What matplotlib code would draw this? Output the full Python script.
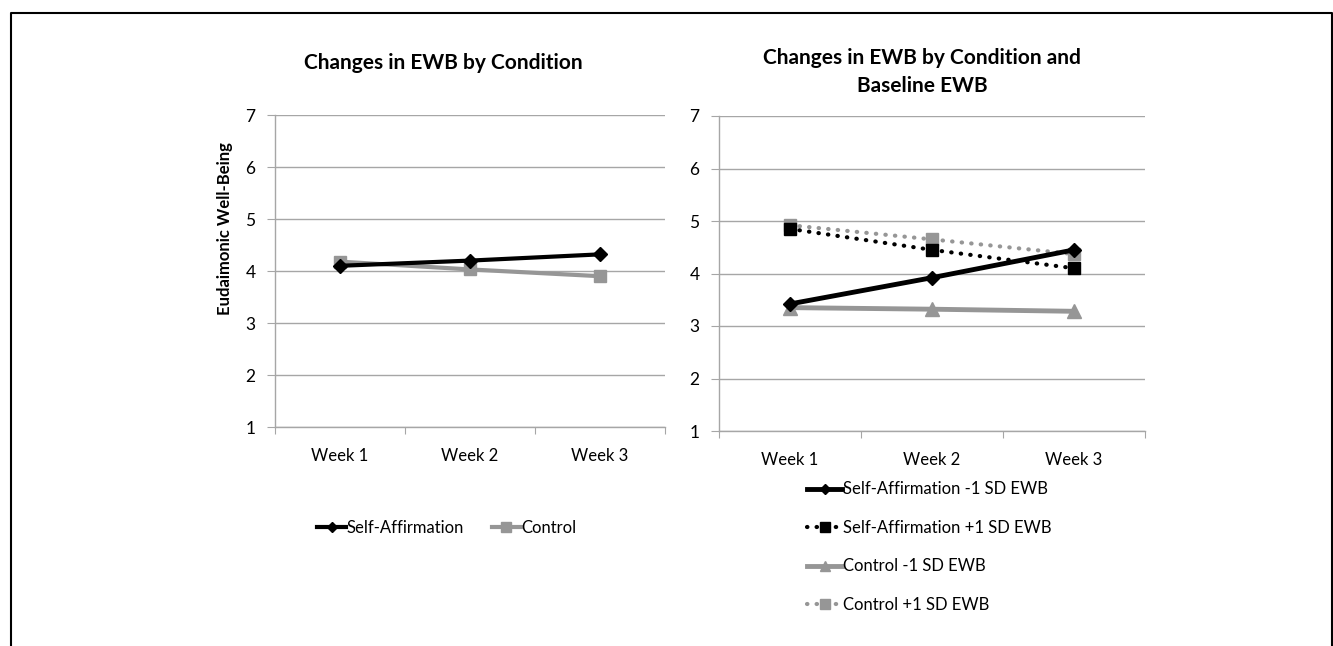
import matplotlib
matplotlib.use("Agg")
import matplotlib.pyplot as plt
from matplotlib.lines import Line2D
import numpy as np

plt.rcParams["font.family"] = ["Lato", "DejaVu Sans"]

# data
weeks = ["Week 1", "Week 2", "Week 3"]

sa = [4.10, 4.20, 4.32]
ctrl = [4.18, 4.03, 3.90]

sa_low = [3.42, 3.92, 4.45]
sa_high = [4.85, 4.45, 4.10]
ctrl_low = [3.35, 3.32, 3.28]
ctrl_high = [4.92, 4.65, 4.37]

GRAY = "#969696"
GRID = "#a6a6a6"
W, H = 1333, 646

fig = plt.figure(figsize=(W / 100, H / 100), dpi=100)


def px_box(x0, x1, ytop, ybot):
    return [x0 / W, 1 - ybot / H, (x1 - x0) / W, (ybot - ytop) / H]


def style_axes(ax):
    ax.set_ylim(1, 7)
    ax.set_xlim(0, 3)
    ax.set_yticks(range(1, 8))
    ax.yaxis.grid(True, color=GRID, lw=1)
    ax.set_axisbelow(True)
    for s in ["top", "right"]:
        ax.spines[s].set_visible(False)
    for s in ["left", "bottom"]:
        ax.spines[s].set_color(GRID)
        ax.spines[s].set_linewidth(1)
    ax.set_xticks([0, 1, 2, 3])
    ax.set_xticklabels([])
    ax.set_xticks([0.5, 1.5, 2.5], minor=True)
    ax.set_xticklabels(weeks, minor=True, fontsize=12, color="black")
    ax.tick_params(axis="x", which="major", length=5, color=GRID, direction="out")
    ax.tick_params(axis="x", which="minor", length=0, pad=15)
    ax.tick_params(axis="y", length=6, color=GRID, labelsize=12.5, pad=8, labelcolor="black")


x = np.arange(len(weeks)) + 0.5

# left panel
ax1 = fig.add_axes(px_box(275, 665, 115, 427))
style_axes(ax1)
ax1.plot(x, sa, color="black", lw=3, marker="D", ms=7, label="Self-Affirmation", zorder=4)
ax1.plot(x, ctrl, color=GRAY, lw=3, marker="s", ms=9, label="Control", zorder=3)
fig.text(225 / W, 1 - 229 / H, "Eudaimonic Well-Being", rotation=90, fontsize=12,
         fontweight="bold", ha="center", va="center")
fig.text(443 / W, 1 - 63 / H, "Changes in EWB by Condition", fontsize=15,
         fontweight="bold", ha="center", va="center")
h1, l1 = ax1.get_legend_handles_labels()
fig.legend(h1, l1, loc="center left", bbox_to_anchor=(309 / W, 1 - 528 / H), ncol=2,
           frameon=False, fontsize=12, handlelength=1.7, handletextpad=0.05,
           columnspacing=1.7, borderpad=0, markerscale=0.75)

# right panel
ax2 = fig.add_axes(px_box(719, 1145, 116, 431))
style_axes(ax2)
dot = (0, (0.1, 2.2))
ax2.plot(x, sa_low, color="black", lw=3.5, marker="D", ms=7,
         label="Self-Affirmation -1 SD EWB", zorder=5)
ax2.plot(x, sa_high, color="black", lw=3, ls=dot, dash_capstyle="round", marker="s", ms=9,
         label="Self-Affirmation +1 SD EWB", zorder=4)
ax2.plot(x, ctrl_low, color=GRAY, lw=3.5, marker="^", ms=10,
         label="Control -1 SD EWB", zorder=3)
ax2.plot(x, ctrl_high, color=GRAY, lw=3, ls=dot, dash_capstyle="round", marker="s", ms=9,
         label="Control +1 SD EWB", zorder=3)
fig.text(922 / W, 1 - 72.5 / H, "Changes in EWB by Condition and\nBaseline EWB", fontsize=15,
         fontweight="bold", ha="center", va="center", linespacing=1.5)
h2, l2 = ax2.get_legend_handles_labels()
fig.legend(h2, l2, loc="upper left", bbox_to_anchor=(799 / W, 1 - 473 / H), ncol=1,
           frameon=False, fontsize=12, handlelength=2.1, handletextpad=0.05,
           labelspacing=1.35, borderpad=0, markerscale=0.75)

# outer frame
fig.add_artist(Line2D([10.5 / W, 10.5 / W, 1331.5 / W, 1331.5 / W],
                      [0, 1 - 12.5 / H, 1 - 12.5 / H, 0],
                      transform=fig.transFigure, color="black", lw=1.5))

fig.savefig("out.png", dpi=100)
